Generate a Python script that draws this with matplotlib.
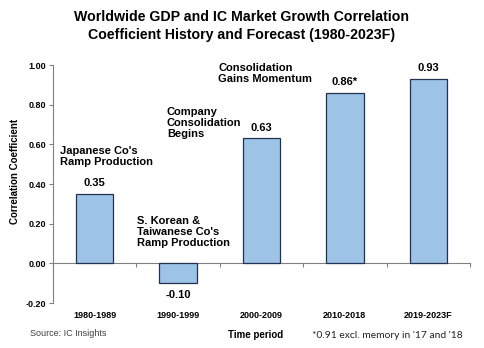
import numpy as np
import matplotlib.pyplot as plt

periods = ['1980-1989', '1990-1999', '2000-2009', '2010-2018', '2019-2023F']
corr = [0.35, -0.10, 0.63, 0.86, 0.93]
value_labels = ['0.35', '-0.10', '0.63', '0.86*', '0.93']
yticks = [-0.20, 0.00, 0.20, 0.40, 0.60, 0.80, 1.00]

plt.rcParams['font.family'] = ['Liberation Sans', 'DejaVu Sans']

fig = plt.figure(figsize=(4.84, 3.48), dpi=100)
ax = fig.add_axes([0.1095, 0.129, 0.8615, 0.684])

x = np.arange(len(periods))
ax.bar(x, corr, width=0.45, color='#9DC3E6', edgecolor='#22314f', linewidth=0.9, zorder=3)

for xi, v, lab in zip(x, corr, value_labels):
    off = 0.055 if v >= 0 else -0.06
    ax.text(xi, v + off, lab, ha='center', va='center', fontsize=8, fontweight='bold')

ax.set_xlim(-0.5, len(periods) - 0.5)
ax.set_ylim(-0.2, 1.0)
ax.set_yticks(yticks)
ax.set_yticklabels(['%.2f' % t for t in yticks], fontsize=6.5, fontweight='bold')
ax.set_xticks(x)
ax.set_xticklabels(periods, fontsize=6.5, fontweight='bold')
ax.tick_params(axis='x', length=0, pad=6)
ax.tick_params(axis='y', length=3, color='#808080', pad=2)
for s in ['top', 'right', 'bottom']:
    ax.spines[s].set_visible(False)
ax.spines['left'].set_color('#808080')

# zero line with category boundary ticks
sec = ax.secondary_xaxis(0.2 / 1.2)
sec.set_xticks(np.arange(len(periods) + 1) - 0.5)
sec.tick_params(axis='x', length=3, color='#808080', labelbottom=False)
sec.spines['bottom'].set_color('#808080')

ax.set_ylabel('Correlation Coefficient', fontsize=7, fontweight='bold')
ax.yaxis.set_label_coords(-0.08, 0.555)

notes = [
    (-0.416, 0.54, "Japanese Co's\nRamp Production"),
    (0.507, 0.157, "S. Korean &\nTaiwanese Co's\nRamp Production"),
    (0.867, 0.707, "Company\nConsolidation\nBegins"),
    (1.48, 0.957, "Consolidation\nGains Momentum"),
]
for nx, ny, txt in notes:
    ax.text(nx, ny, txt, ha='left', va='center', fontsize=8, fontweight='bold',
            linespacing=1.1)

fig.text(0.5, 0.925, 'Worldwide GDP and IC Market Growth Correlation\n'
         'Coefficient History and Forecast (1980-2023F)',
         ha='center', va='center', fontsize=10.2, fontweight='bold', linespacing=1.3)

fig.text(30 / 484, 1 - 333 / 348, 'Source: IC Insights', fontsize=6.5, color='#404040',
         ha='left', va='center')
fig.text(256 / 484, 1 - 335 / 348, 'Time period', fontsize=7, fontweight='bold',
         ha='center', va='center')
fig.text(312 / 484, 1 - 335 / 348, "*0.91 excl. memory in '17 and '18", fontsize=7.4,
         family=['Lato', 'DejaVu Sans'], color='#222222', ha='left', va='center')

fig.savefig('out.png', dpi=100)
